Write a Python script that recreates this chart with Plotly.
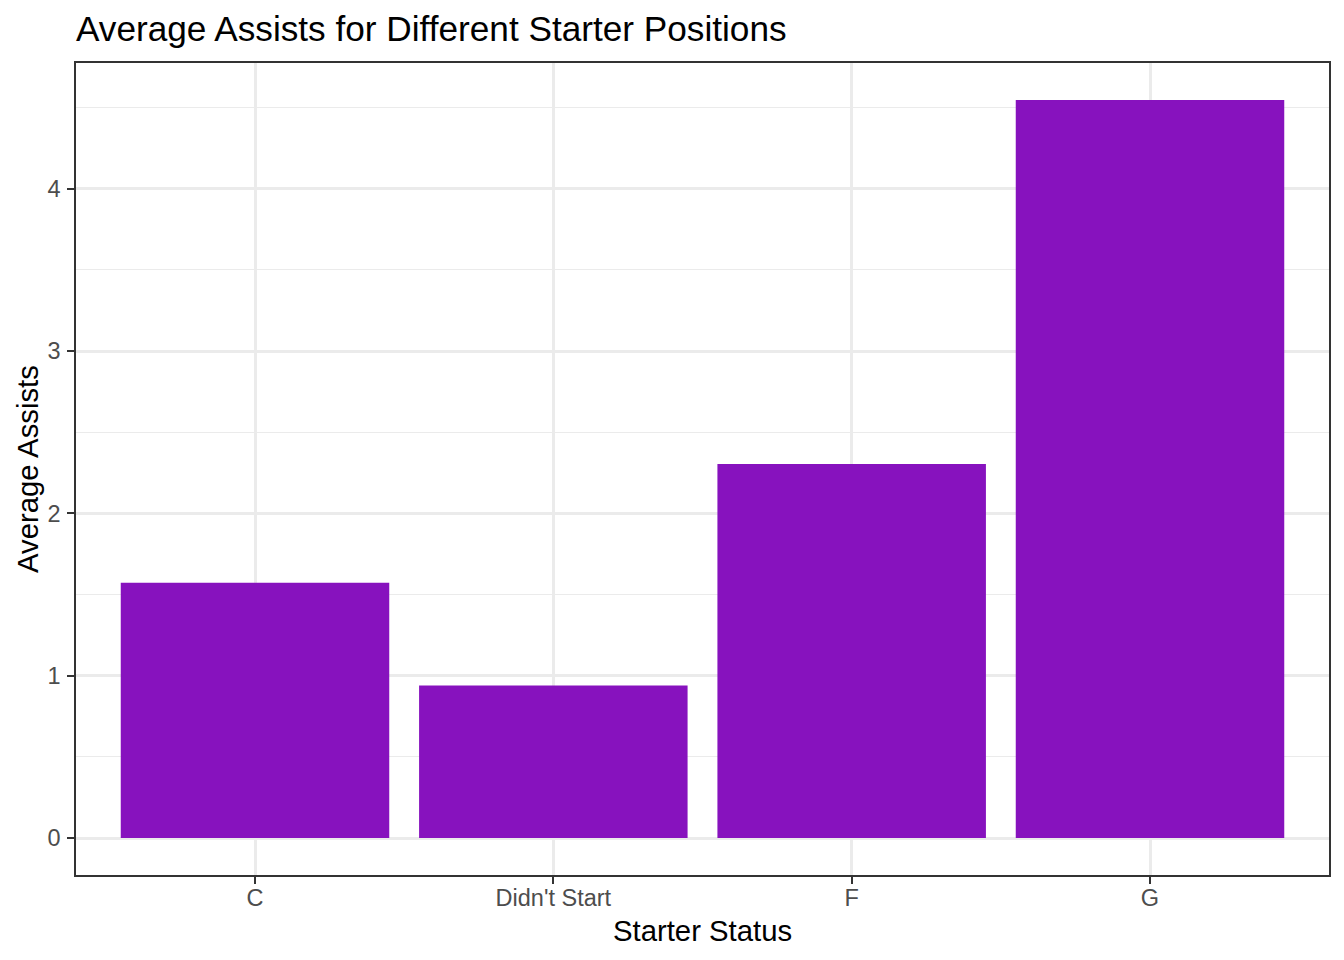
import plotly.graph_objects as go

categories = ["C", "Didn't Start", "F", "G"]
avg_assists = [1.573, 0.940, 2.304, 4.547]
y_ticks = [0, 1, 2, 3, 4]

bar_color = "#8712BE"
font_family = "Liberation Sans, Arial, Helvetica, sans-serif"

# page body has an 8px margin; compensate so the panel lands at 76..1329 x 63..875
OFF = 8
W, H = 1344, 960
PL, PR, PT, PB = 76, 1329, 63, 875

fig = go.Figure()
fig.add_trace(go.Bar(
    x=categories, y=avg_assists, width=0.9,
    marker=dict(color=bar_color, line=dict(width=0)),
))

fig.update_layout(
    width=W, height=H,
    margin=dict(l=PL - OFF, r=W - PR + OFF, t=PT - OFF, b=H - PB + OFF),
    paper_bgcolor="white", plot_bgcolor="white",
    showlegend=False,
    font=dict(family=font_family, color="#000000"),
    title=dict(text="Average Assists for Different Starter Positions",
               x=(PL - OFF) / W, xanchor="left", xref="container",
               y=1 - (29 - OFF) / H, yanchor="middle", yref="container",
               font=dict(size=35.2, color="#000000")),
    bargap=0.1,
)

fig.update_xaxes(
    type="category", range=[-0.6, 3.6],
    showgrid=True, gridcolor="#EBEBEB", gridwidth=2.6,
    ticks="outside", ticklen=7, tickwidth=2.4, tickcolor="#333333",
    tickfont=dict(size=23.5, color="#4D4D4D", family=font_family),
    ticklabelstandoff=-6,
    showline=True, linecolor="#333333", linewidth=1.5, mirror=True,
    zeroline=False,
)
fig.update_yaxes(
    range=[-0.2274, 4.7744],
    tickvals=y_ticks, ticktext=[str(v) for v in y_ticks],
    showgrid=True, gridcolor="#EBEBEB", gridwidth=2.6,
    minor=dict(tickvals=[0.5, 1.5, 2.5, 3.5, 4.5], showgrid=True,
               gridcolor="#EBEBEB", gridwidth=1.3, ticks=""),
    ticks="outside", ticklen=7, tickwidth=2.4, tickcolor="#333333",
    tickfont=dict(size=23.5, color="#4D4D4D", family=font_family),
    ticklabelstandoff=2,
    showline=True, linecolor="#333333", linewidth=1.5, mirror=True,
    zeroline=False,
)

fig.add_annotation(text="Starter Status", xref="paper", yref="paper",
                   x=0.5, y=-(931 - PB) / (PB - PT), xanchor="center", yanchor="middle",
                   showarrow=False, font=dict(size=29.3, color="#000000"))
fig.add_annotation(text="Average Assists", xref="paper", yref="paper",
                   x=-(PL - 27) / (PR - PL), y=0.5, xanchor="center", yanchor="middle",
                   textangle=-90, showarrow=False, font=dict(size=29.3, color="#000000"))

fig.write_html("out.html")
